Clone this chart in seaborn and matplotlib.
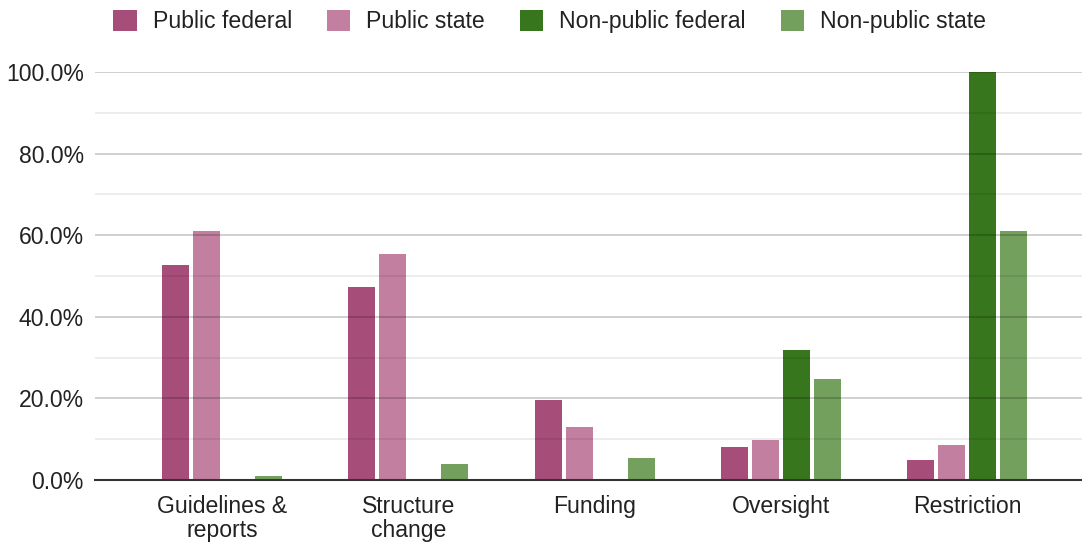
import matplotlib
matplotlib.use("Agg")
import matplotlib.pyplot as plt
from matplotlib.patches import Patch
from matplotlib.ticker import MultipleLocator, FuncFormatter
import pandas as pd
import seaborn as sns

categories = ["Guidelines &\nreports", "Structure\nchange", "Funding", "Oversight", "Restriction"]
series = ["Public federal", "Public state", "Non-public federal", "Non-public state"]
public_federal = [52.6, 47.4, 19.5, 8.2, 4.9]
public_state = [61.1, 55.4, 12.9, 9.7, 8.6]
non_public_federal = [0.0, 0.0, 0.0, 31.8, 100.0]
non_public_state = [1.1, 3.9, 5.4, 24.7, 61.1]
colors = ["#a64d79", "#c27fa0", "#38761d", "#73a05d"]

rows = []
for name, vals in zip(series, [public_federal, public_state, non_public_federal, non_public_state]):
    for cat, v in zip(categories, vals):
        rows.append({"category": cat, "series": name, "value": v})
df = pd.DataFrame(rows)

sns.set_theme(style="white")
plt.rcParams["font.family"] = ["Liberation Sans", "DejaVu Sans"]
plt.rcParams["text.color"] = "#222222"

FS = 16.6

fig = plt.figure(figsize=(10.82, 5.44), dpi=100)
ax = fig.add_axes([95 / 1082, 1 - 480 / 544, 987 / 1082, 408 / 544])

sns.barplot(data=df, x="category", y="value", hue="series", hue_order=series,
            order=categories, palette=colors, width=0.6656, gap=0.129,
            saturation=1, ax=ax, legend=False, linewidth=0)

for bar in ax.patches:
    bar.set_clip_on(False)

ax.set_xlim(-0.682, 4.616)
ax.set_ylim(0, 100)
ax.yaxis.set_major_locator(MultipleLocator(20))
ax.yaxis.set_minor_locator(MultipleLocator(10))
ax.yaxis.set_major_formatter(FuncFormatter(lambda v, p: f"{v:.1f}%"))

# grid lines sit above the bars, translucent so they read as light grey on white
ax.set_axisbelow(False)
ax.grid(axis="y", which="major", color="black", alpha=0.2, linewidth=1.3)
ax.grid(axis="y", which="minor", color="black", alpha=0.08, linewidth=1.3)
ax.grid(axis="x", visible=False)
for side in ["top", "right", "left"]:
    ax.spines[side].set_visible(False)
ax.spines["bottom"].set_color("#333333")
ax.spines["bottom"].set_linewidth(1.5)
ax.spines["bottom"].set_zorder(5)

ax.tick_params(axis="y", which="both", length=0, pad=8, labelsize=FS, labelcolor="#222222")
ax.tick_params(axis="x", length=0, pad=10.5, labelsize=FS, labelcolor="#222222")
for lbl in ax.get_xticklabels():
    lbl.set_linespacing(1.08)
ax.set_xlabel("")
ax.set_ylabel("")

handles = [Patch(facecolor=c, edgecolor="none", label=s) for c, s in zip(colors, series)]
fig.legend(handles=handles, loc="upper center", bbox_to_anchor=(0.508, 1.02), ncol=4,
           frameon=False, fontsize=FS, handlelength=1.0, handleheight=1.0,
           handletextpad=0.7, columnspacing=1.52)

fig.savefig("out.png", dpi=100)
